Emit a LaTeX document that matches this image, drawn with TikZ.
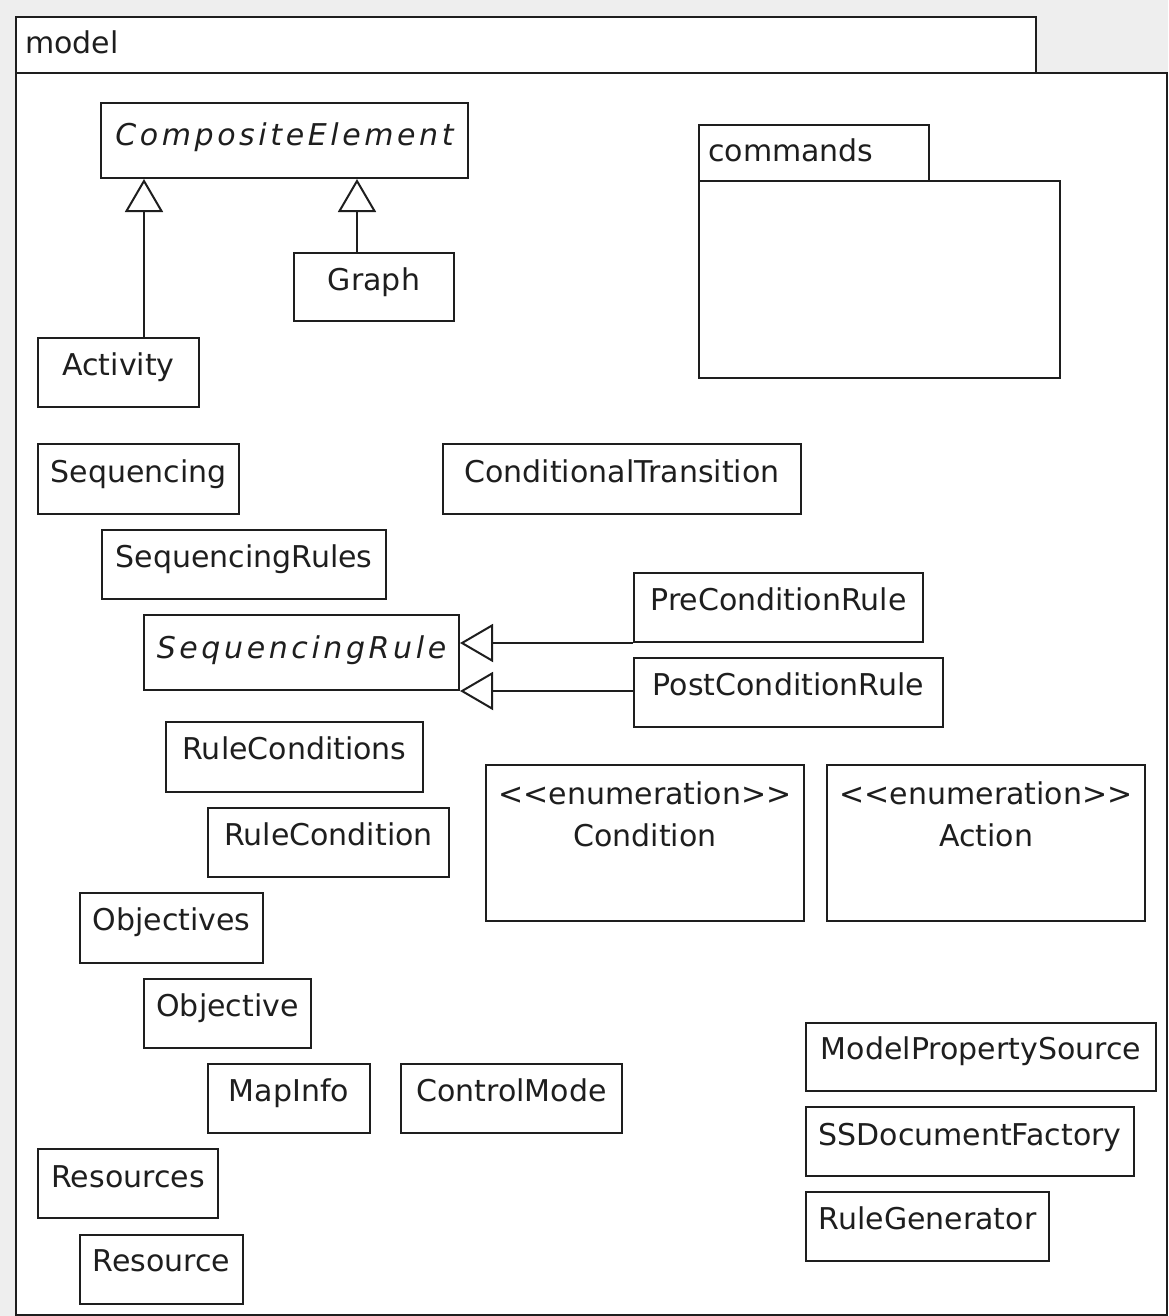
\documentclass[tikz,border=0pt]{standalone}
\usepackage{fontspec}
\newfontfamily\umlfont{DejaVu Sans}
\usetikzlibrary{arrows.meta}
\definecolor{paper}{HTML}{EEEEEE}
\definecolor{ink}{HTML}{1E1E1E}
\begin{document}
\begin{tikzpicture}[x=1pt,y=-1pt,
  every node/.style={font=\umlfont\fontsize{30}{36}\selectfont},
  cls/.style={draw=ink, line width=2pt, fill=white, anchor=north west, inner sep=0pt},
  lbl/.style={anchor=base, inner sep=0pt, text=ink},
  abstr/.style={lbl, font=\umlfont\fontsize{30}{36}\selectfont\itshape\addfontfeature{LetterSpace=12}},
  gen/.style={draw=ink, line width=2pt, -{Triangle[open, length=33pt, width=38pt, line width=2pt]}},
]
\fill[paper] (0,0) rectangle (1168,1316);
\useasboundingbox (0,0) rectangle (1168,1316);

% package "model"
\node[cls, minimum width=1020pt, minimum height=56pt] (modeltab) at (15,16) {};
\node[cls, minimum width=1151pt, minimum height=1242pt] (modelbody) at (15,72) {};
\node[lbl, anchor=base west] (modeltxt) at ([xshift=10pt, yshift=-38pt]modeltab.north west) {model};

% package "commands"
\node[cls, minimum width=230pt, minimum height=56pt] (cmdtab) at (698,124) {};
\node[cls, minimum width=361pt, minimum height=197pt] (cmdbody) at (698,180) {};
\node[lbl, anchor=base west] (cmdtxt) at ([xshift=10pt, yshift=-38pt]cmdtab.north west) {commands};

% classes
\node[cls, minimum width=367pt, minimum height=75pt] (comp) at (100,102) {};
\node[abstr] (compT) at ([yshift=-44pt]comp.north) {CompositeElement};

\node[cls, minimum width=160pt, minimum height=68pt] (graph) at (293,252) {};
\node[lbl] (graphT) at ([yshift=-38pt]graph.north) {Graph};

\node[cls, minimum width=161pt, minimum height=69pt] (activity) at (37,337) {};
\node[lbl] (activityT) at ([yshift=-38pt]activity.north) {Activity};

\node[cls, minimum width=201pt, minimum height=70pt] (sequencing) at (37,443) {};
\node[lbl] (sequencingT) at ([yshift=-39pt]sequencing.north) {Sequencing};

\node[cls, minimum width=358pt, minimum height=70pt] (condtrans) at (442,443) {};
\node[lbl] (condtransT) at ([yshift=-39pt]condtrans.north) {ConditionalTransition};

\node[cls, minimum width=284pt, minimum height=69pt] (seqrules) at (101,529) {};
\node[lbl] (seqrulesT) at ([yshift=-38pt]seqrules.north) {SequencingRules};

\node[cls, minimum width=315pt, minimum height=75pt] (seqrule) at (143,614) {};
\node[abstr] (seqruleT) at ([yshift=-44pt]seqrule.north) {SequencingRule};

\node[cls, minimum width=289pt, minimum height=69pt] (pre) at (633,572) {};
\node[lbl] (preT) at ([yshift=-38pt]pre.north) {PreConditionRule};

\node[cls, minimum width=309pt, minimum height=69pt] (post) at (633,657) {};
\node[lbl] (postT) at ([yshift=-38pt]post.north) {PostConditionRule};

\node[cls, minimum width=257pt, minimum height=70pt] (ruleconds) at (165,721) {};
\node[lbl] (rulecondsT) at ([yshift=-38pt]ruleconds.north) {RuleConditions};

\node[cls, minimum width=241pt, minimum height=69pt] (rulecond) at (207,807) {};
\node[lbl] (rulecondT) at ([yshift=-38pt]rulecond.north) {RuleCondition};

\node[cls, minimum width=318pt, minimum height=156pt] (condenum) at (485,764) {};
\node[lbl] (condenumS) at ([yshift=-40pt]condenum.north) {<<enumeration>>};
\node[lbl] (condenumT) at ([yshift=-82pt]condenum.north) {Condition};

\node[cls, minimum width=318pt, minimum height=156pt] (actenum) at (826,764) {};
\node[lbl] (actenumS) at ([yshift=-40pt]actenum.north) {<<enumeration>>};
\node[lbl] (actenumT) at ([yshift=-82pt]actenum.north) {Action};

\node[cls, minimum width=183pt, minimum height=70pt] (objectives) at (79,892) {};
\node[lbl] (objectivesT) at ([yshift=-38pt]objectives.north) {Objectives};

\node[cls, minimum width=167pt, minimum height=69pt] (objective) at (143,978) {};
\node[lbl] (objectiveT) at ([yshift=-38pt]objective.north) {Objective};

\node[cls, minimum width=162pt, minimum height=69pt] (mapinfo) at (207,1063) {};
\node[lbl] (mapinfoT) at ([yshift=-38pt]mapinfo.north) {MapInfo};

\node[cls, minimum width=221pt, minimum height=69pt] (controlmode) at (400,1063) {};
\node[lbl] (controlmodeT) at ([yshift=-38pt]controlmode.north) {ControlMode};

\node[cls, minimum width=180pt, minimum height=69pt] (resources) at (37,1148) {};
\node[lbl] (resourcesT) at ([yshift=-39pt]resources.north) {Resources};

\node[cls, minimum width=163pt, minimum height=69pt] (resource) at (79,1234) {};
\node[lbl] (resourceT) at ([yshift=-37pt]resource.north) {Resource};

\node[cls, minimum width=350pt, minimum height=68pt] (mps) at (805,1022) {};
\node[lbl] (mpsT) at ([yshift=-37pt]mps.north) {ModelPropertySource};

\node[cls, minimum width=328pt, minimum height=69pt] (ssdf) at (805,1106) {};
\node[lbl] (ssdfT) at ([yshift=-39pt]ssdf.north) {SSDocumentFactory};

\node[cls, minimum width=243pt, minimum height=69pt] (rulegen) at (805,1191) {};
\node[lbl] (rulegenT) at ([yshift=-38pt]rulegen.north) {RuleGenerator};

% generalizations
\coordinate (actTop) at ([xshift=107pt]activity.north west);
\coordinate (graphTop) at ([xshift=64pt]graph.north west);
\draw[gen] (actTop) -- (actTop |- comp.south);
\draw[gen] (graphTop) -- (graphTop |- comp.south);
\draw[gen] (pre.south west) -- (pre.south west -| seqrule.east);
\draw[gen] (post.west |- seqrule.south east) -- (seqrule.south east);
\end{tikzpicture}
\end{document}
